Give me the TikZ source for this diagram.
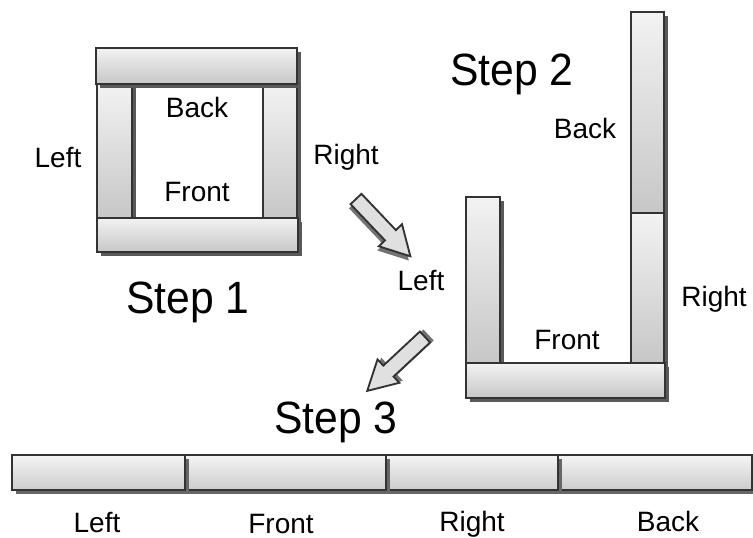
\documentclass[tikz,border=0pt]{standalone}
\usepackage{fontspec}
\setmainfont{Liberation Sans}
\usetikzlibrary{shadows}

\tikzset{
  board/.style={draw=black!80, line width=1.4pt, top color=black!5, bottom color=black!22,
    drop shadow={shadow xshift=3pt, shadow yshift=-3pt, fill=black!65, opacity=1}},
  plate/.style={draw=black!80, line width=1.4pt, top color=black!4, bottom color=black!20,
    drop shadow={shadow xshift=3pt, shadow yshift=-3pt, fill=black!60, opacity=1}},
  blockarrow/.style={line width=1.4pt, draw=black!80, fill=black!12},
  lbl/.style={font=\fontsize{21}{24}\selectfont, inner sep=0pt},
  steplbl/.style={font=\fontsize{32}{38}\selectfont, inner sep=0pt, yscale=1.06}
}

\begin{document}
\begin{tikzpicture}[x=0.75pt,y=-0.75pt]
\useasboundingbox[fill=white] (0,0) rectangle (753,538);

% step 1: the closed frame
\draw[board] (97,84) rectangle (132,218);
\draw[board] (263,84) rectangle (297,218);
\draw[board] (96,48) rectangle (297,84);
\draw[board] (97,218) rectangle (298,252);
\node[lbl] (s1back) at (197,107) {Back};
\node[lbl] (s1front) at (197,192) {Front};
\node[lbl] (s1left) at (58,158) {Left};
\node[lbl] (s1right) at (346,157) {Right};
\node[steplbl] (step1) at (188,302) {Step 1};

% block arrows
\begin{scope}[shift={(356,199)}, rotate=-46.5]
  \fill[black!55, shift={(2,4)}] (0,-7.5) -- (50,-7.5) -- (50,-16) -- (79,0) -- (50,16) -- (50,7.5) -- (0,7.5) -- cycle;
  \draw[blockarrow] (0,-7.5) -- (50,-7.5) -- (50,-16) -- (79,0) -- (50,16) -- (50,7.5) -- (0,7.5) -- cycle;
\end{scope}
\begin{scope}[shift={(425,337)}, rotate=-137]
  \fill[black!55, shift={(-4,-1)}] (0,-7.5) -- (50,-7.5) -- (50,-16) -- (79,0) -- (50,16) -- (50,7.5) -- (0,7.5) -- cycle;
  \draw[blockarrow] (0,-7.5) -- (50,-7.5) -- (50,-16) -- (79,0) -- (50,16) -- (50,7.5) -- (0,7.5) -- cycle;
\end{scope}

% step 2: opened out
\node[steplbl] (step2) at (512,74) {Step 2};
\draw[board] (631,12) rectangle (664,213);
\draw[board] (631,213) rectangle (664,363);
\draw[board] (466,197) rectangle (500,363);
\draw[board] (466,363) rectangle (665,398);
\node[lbl] (s2back) at (585,128) {Back};
\node[lbl] (s2left) at (421,281) {Left};
\node[lbl] (s2front) at (567,340) {Front};
\node[lbl] (s2right) at (714,299) {Right};

% step 3: laid flat in a row
\node[steplbl] (step3) at (336,422) {Step 3};
\draw[plate] (558,455) rectangle (752,490);
\draw[plate] (386,455) rectangle (558,490);
\draw[plate] (185,455) rectangle (386,490);
\draw[plate] (12,455) rectangle (185,490);
\node[lbl] (s3left) at (97,523) {Left};
\node[lbl] (s3front) at (281,524) {Front};
\node[lbl] (s3right) at (472,524) {Right};
\node[lbl] (s3back) at (668,521) {Back};
\end{tikzpicture}
\end{document}
